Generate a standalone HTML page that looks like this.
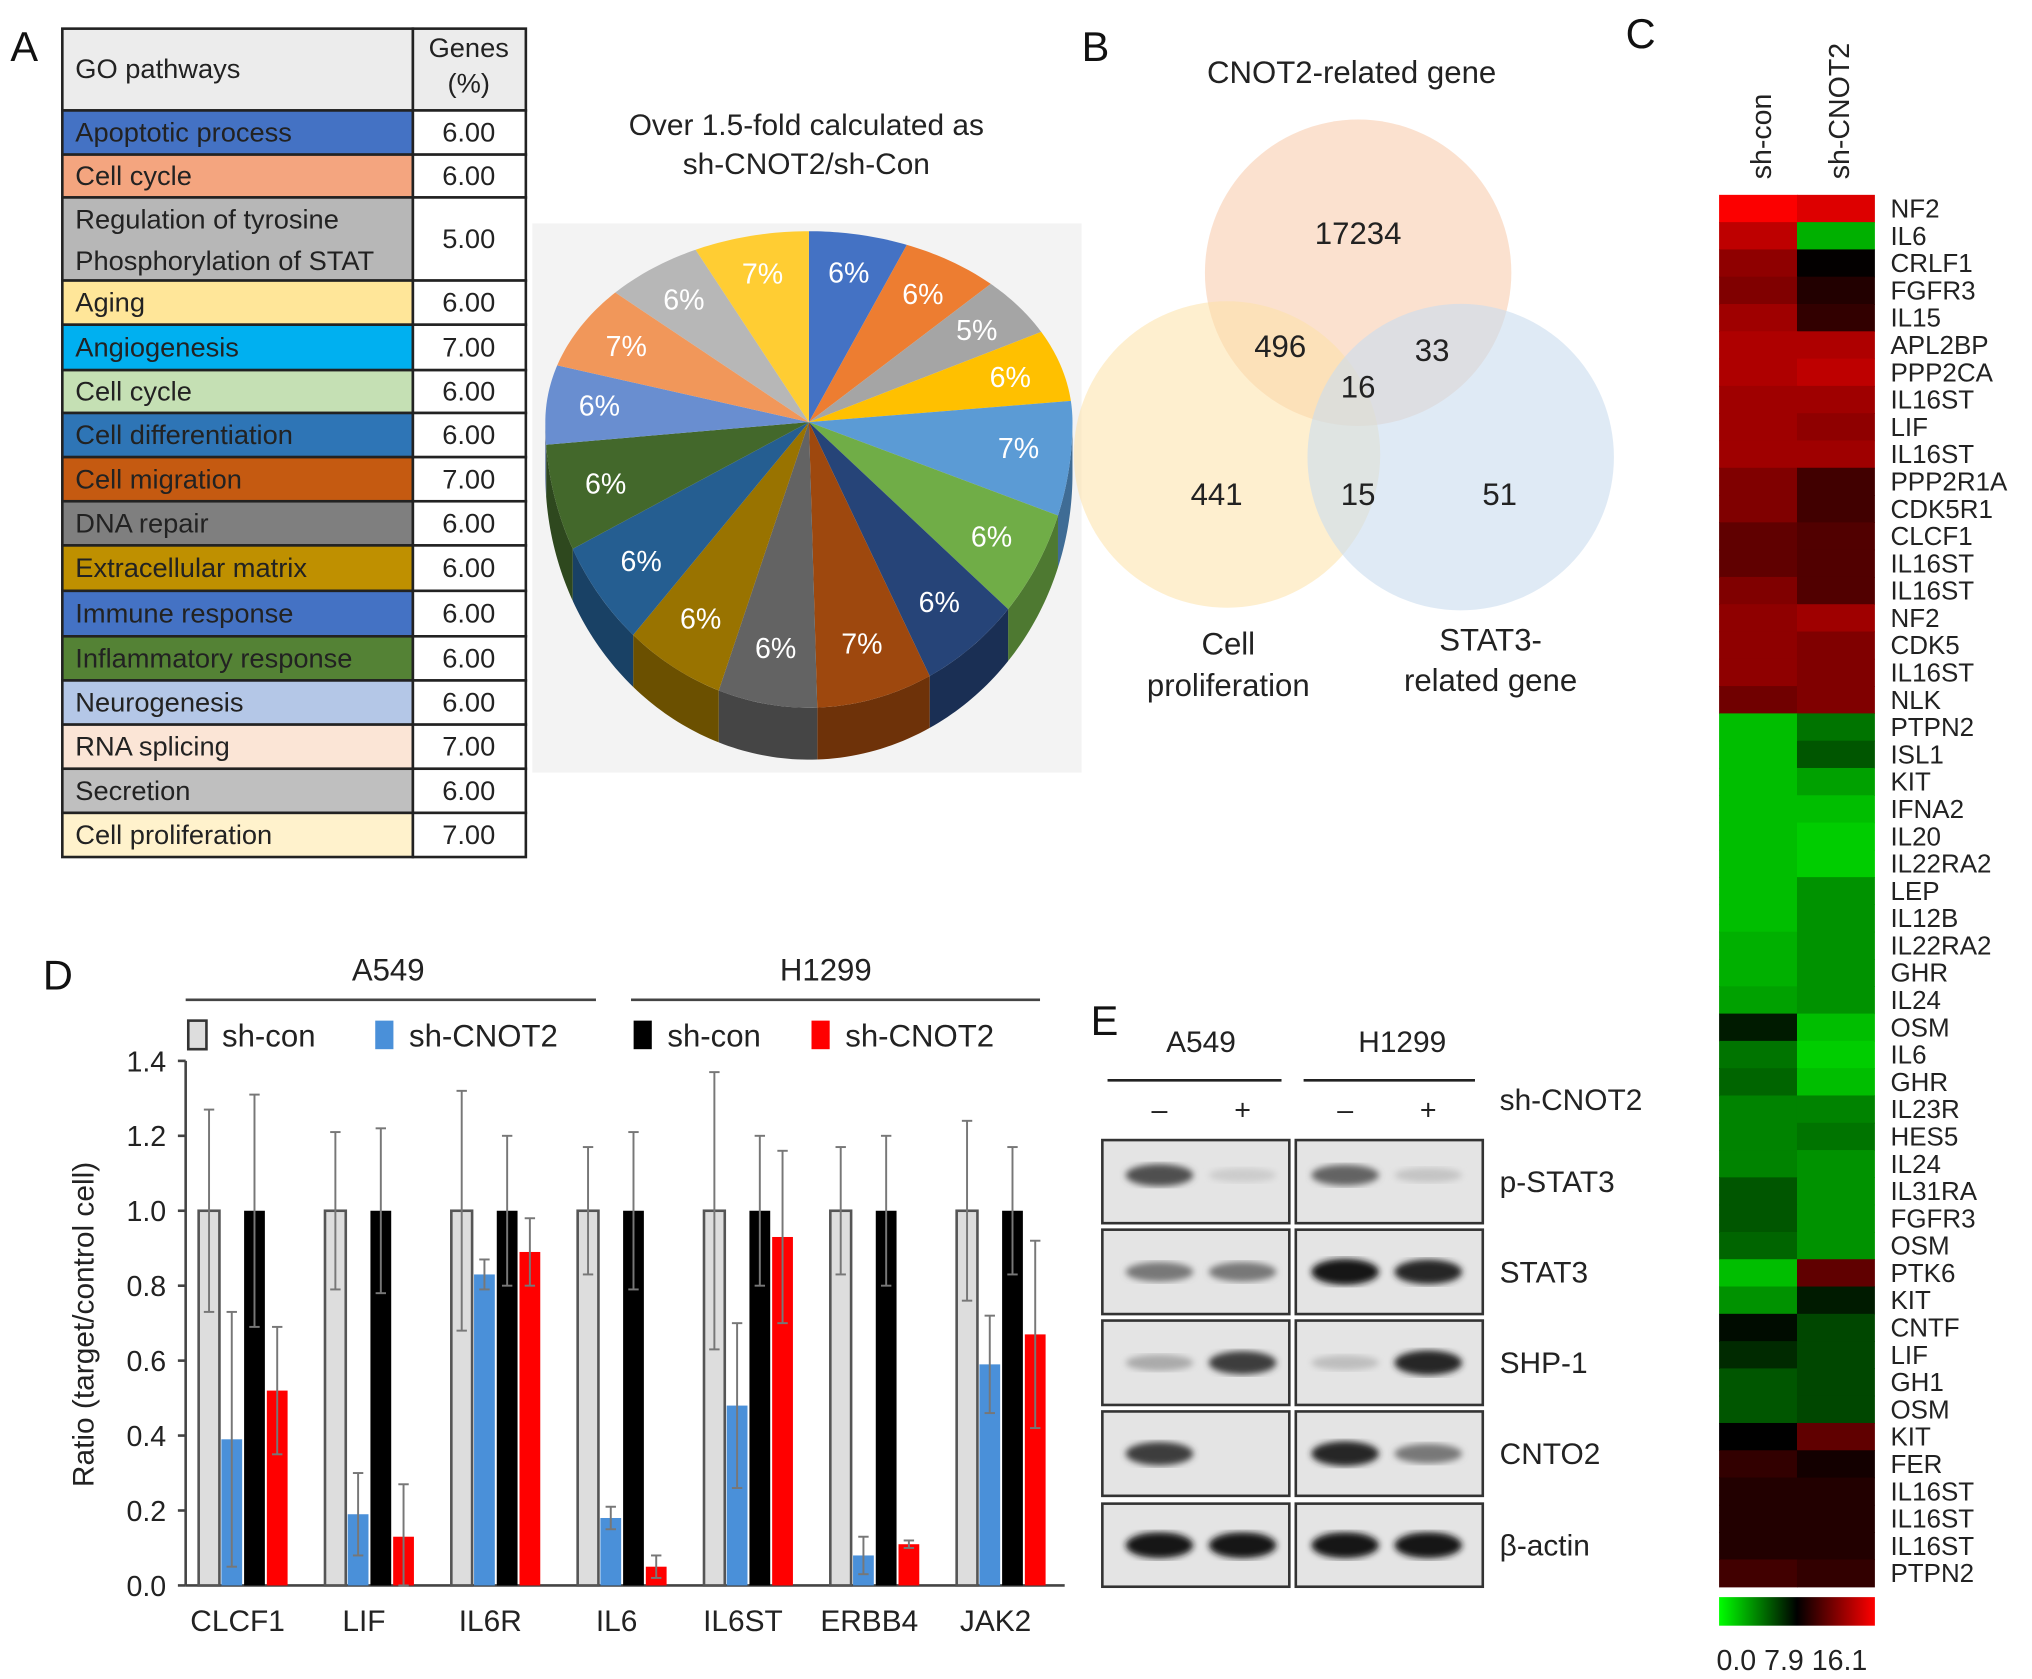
<!DOCTYPE html>
<html><head><meta charset="utf-8"><style>
html,body{margin:0;padding:0;background:#fff}
svg{display:block;font-family:"Liberation Sans",Arial,sans-serif}
</style></head><body>
<svg id="fig" width="2032" height="1679" viewBox="0 0 1565 1293" xmlns="http://www.w3.org/2000/svg">
<g id="pA"></g>
<g id="pB"></g>
<g id="pC"></g>
<g id="pD"></g>
<g id="pE"></g>
</svg>
<script>
// ---------- DATA ----------
const goNames=["Apoptotic process","Cell cycle","Regulation of tyrosine|Phosphorylation of STAT","Aging","Angiogenesis","Cell cycle","Cell differentiation","Cell migration","DNA repair","Extracellular matrix","Immune response","Inflammatory response","Neurogenesis","RNA splicing","Secretion","Cell proliferation"];
const goValues=[6,6,5,6,7,6,6,7,6,6,6,6,6,7,6,7];
const goColors=["#4472c4","#f4a57f","#b7b7b7","#ffe699","#00b0f0","#c5e0b4","#2e75b6","#c55a11","#7f7f7f","#bf9000","#4472c4","#548235","#b4c7e7","#fbe5d6","#bfbfbf","#fff2cc"];
const pieValues=[6,6,5,6,7,6,6,7,6,6,6,6,6,7,6,7];
const pieColors=["#4472c4","#ed7d31","#a5a5a5","#ffc000","#5b9bd5","#70ad47","#264478","#9e480e","#636363","#997300","#255e91","#43682b","#698ed0","#f1975a","#b7b7b7","#ffcd33"];
const vennCounts=["17234","496","33","16","441","15","51"];
const heatGenes=["NF2","IL6","CRLF1","FGFR3","IL15","APL2BP","PPP2CA","IL16ST","LIF","IL16ST","PPP2R1A","CDK5R1","CLCF1","IL16ST","IL16ST","NF2","CDK5","IL16ST","NLK","PTPN2","ISL1","KIT","IFNA2","IL20","IL22RA2","LEP","IL12B","IL22RA2","GHR","IL24","OSM","IL6","GHR","IL23R","HES5","IL24","IL31RA","FGFR3","OSM","PTK6","KIT","CNTF","LIF","GH1","OSM","KIT","FER","IL16ST","IL16ST","IL16ST","PTPN2"];
const heatCon=[16,14,12.5,12,13,13.5,13.5,13,13,13,12,12,11,11,12,12.5,12.5,12.5,11.5,1.5,1.5,1.5,1.5,1.5,1.5,1.5,1.5,2,2,2.5,7,4,4.5,3.5,3.5,3.5,5,5,4.5,1.5,3,7.5,6.5,5,5,7.9,9.5,9,9,9,10];
const heatKd=[15,2,8,9,9.5,13.5,14,13,12.5,13,10,10,10.5,10.5,10.5,13,12,12,12,4,5,2.5,1.5,1,1,3,3,3,3,3,1.5,1,1.5,3.5,4,3,3,3,3,11,7,5.5,5.5,5.5,5.5,11,8.5,9,9,9,9.5];
const barGenes=["CLCF1","LIF","IL6R","IL6","IL6ST","ERBB4","JAK2"];
const a549Con=[1,1,1,1,1,1,1];
const a549ConErr=[0.27,0.21,0.32,0.17,0.37,0.17,0.24];
const a549Kd=[0.39,0.19,0.83,0.18,0.48,0.08,0.59];
const a549KdErr=[0.34,0.11,0.04,0.03,0.22,0.05,0.13];
const h1299Con=[1,1,1,1,1,1,1];
const h1299ConErr=[0.31,0.22,0.20,0.21,0.20,0.20,0.17];
const h1299Kd=[0.52,0.13,0.89,0.05,0.93,0.11,0.67];
const h1299KdErr=[0.17,0.14,0.09,0.03,0.23,0.01,0.25];
const yTicks=[0,0.2,0.4,0.6,0.8,1.0,1.2,1.4];
const blotLabels=["p-STAT3","STAT3","SHP-1","CNTO2","β-actin"];
const blotIntensity=[[0.7,0.08,0.6,0.12],[0.5,0.5,1,0.9],[0.25,0.8,0.15,0.9],[0.8,0,0.9,0.5],[1,1,1,1]];

// ---------- helpers ----------
const NS="http://www.w3.org/2000/svg";
function mk(parent,tag,attrs,text){const e=document.createElementNS(NS,tag);for(const k in attrs)e.setAttribute(k,attrs[k]);if(text!==undefined)e.textContent=text;parent.appendChild(e);return e;}
const svg=document.getElementById('fig');
function letter(t,x,y){const e=mk(svg,'text',{x:x,y:y,'font-size':32,fill:'#111'},t);

}
letter('A',8,47);letter('B',833,47);letter('C',1252,37);letter('D',33,762);letter('E',840,797);

// ---------- Panel A table ----------
const pA=document.getElementById('pA');
const rowB=[85,119,152,216,250,285,318,352,386,420,455,490,524,558,592,626,660];
(function(){
 const hdr=mk(pA,'rect',{x:48,y:22,width:270,height:63,fill:'#ececec',stroke:'#222','stroke-width':2});
 
 mk(pA,'rect',{x:318,y:22,width:87,height:63,fill:'#ececec',stroke:'#222','stroke-width':2});
 mk(pA,'text',{x:58,y:60,'font-size':21,fill:'#222'},'GO pathways');
 mk(pA,'text',{x:361,y:44,'font-size':21,fill:'#222','text-anchor':'middle'},'Genes');
 mk(pA,'text',{x:361,y:71,'font-size':21,fill:'#222','text-anchor':'middle'},'(%)');
 for(let i=0;i<goNames.length;i++){
  const y0=rowB[i],y1=rowB[i+1];
  const r=mk(pA,'rect',{x:48,y:y0,width:270,height:y1-y0,fill:goColors[i],stroke:'#222','stroke-width':2});
  
  mk(pA,'rect',{x:318,y:y0,width:87,height:y1-y0,fill:'#fff',stroke:'#222','stroke-width':2});
  const parts=goNames[i].split('|');
  if(parts.length===1) mk(pA,'text',{x:58,y:(y0+y1)/2+7,'font-size':21,fill:'#222'},parts[0]);
  else{mk(pA,'text',{x:58,y:y0+24,'font-size':21,fill:'#222'},parts[0]);mk(pA,'text',{x:58,y:y0+56,'font-size':21,fill:'#222'},parts[1]);}
  mk(pA,'text',{x:361,y:(y0+y1)/2+7,'font-size':21,fill:'#222','text-anchor':'middle'},goValues[i].toFixed(2));
 }
 // pie
 mk(pA,'rect',{x:410,y:172,width:423,height:423,fill:'#f3f3f3'});
 const t1=mk(pA,'text',{x:621,y:104,'font-size':23,fill:'#222','text-anchor':'middle'},'Over 1.5-fold calculated as');
 
 mk(pA,'text',{x:621,y:134,'font-size':23,fill:'#222','text-anchor':'middle'},'sh-CNOT2/sh-Con');
 const cx=623,cy=325,rx=203,ryT=147,ryB=220,dep=40;
 const tot=pieValues.reduce((a,b)=>a+b,0);
 const pt=(a,r,dy)=>{const c=Math.cos(a);return [cx+rx*r*Math.sin(a),cy-(c>0?ryT:ryB)*r*c+(dy||0)];};
 function shade(c,f){const n=parseInt(c.slice(1),16);const r=(n>>16)*f|0,g=((n>>8)&255)*f|0,b=(n&255)*f|0;return `rgb(${r},${g},${b})`;}
 let a=0;const angs=[];
 for(const v of pieValues){const b=a+v/tot*2*Math.PI;angs.push([a,b]);a=b;}
 angs.forEach(([a0,b0],i)=>{
  const s=Math.max(a0,Math.PI/2),e=Math.min(b0,3*Math.PI/2);if(s>=e)return;
  let d='';const N=20;for(let k=0;k<=N;k++){const p=pt(s+(e-s)*k/N,1);d+=(k?'L':'M')+p[0]+','+p[1];}
  for(let k=N;k>=0;k--){const p=pt(s+(e-s)*k/N,1,dep);d+='L'+p[0]+','+p[1];}
  const sd=mk(pA,'path',{d:d+'Z',fill:shade(pieColors[i],0.7)});
  
 });
 angs.forEach(([a0,b0],i)=>{
  let d=`M${cx},${cy}`;const N=24;
  for(let k=0;k<=N;k++){const p=pt(a0+(b0-a0)*k/N,1);d+='L'+p[0]+','+p[1];}
  const sl=mk(pA,'path',{d:d+'Z',fill:pieColors[i]});
  
  const m=pt((a0+b0)/2,0.8);
  mk(pA,'text',{x:m[0],y:m[1]+8,'font-size':22,fill:'#fff','text-anchor':'middle'},pieValues[i]+'%');
 });
})();

// ---------- Panel B Venn ----------
(function(){
 const g=document.getElementById('pB');
 const t=mk(g,'text',{x:1041,y:64,'font-size':24,fill:'#222','text-anchor':'middle'},'CNOT2-related gene');
 
 const c1=mk(g,'circle',{cx:1046,cy:210,r:118,fill:'#f7c9a8','fill-opacity':0.55});
 
 const c2=mk(g,'circle',{cx:945,cy:350,r:118,fill:'#fde2a8','fill-opacity':0.55});
 
 const c3=mk(g,'circle',{cx:1125,cy:352,r:118,fill:'#c9dcee','fill-opacity':0.6});
 
 const pos=[[1046,188],[986,275],[1103,278],[1046,306],[937,389],[1046,389],[1155,389]];
 vennCounts.forEach((v,i)=>mk(g,'text',{x:pos[i][0],y:pos[i][1],'font-size':24,fill:'#222','text-anchor':'middle'},v));
 mk(g,'text',{x:946,y:504,'font-size':24,fill:'#222','text-anchor':'middle'},'Cell');
 mk(g,'text',{x:946,y:536,'font-size':24,fill:'#222','text-anchor':'middle'},'proliferation');
 mk(g,'text',{x:1148,y:501,'font-size':24,fill:'#222','text-anchor':'middle'},'STAT3-');
 mk(g,'text',{x:1148,y:532,'font-size':24,fill:'#222','text-anchor':'middle'},'related gene');
})();

// ---------- Panel C heatmap ----------
(function(){
 const g=document.getElementById('pC');
 const x0=1324,w=60,y0=150,y1=1222,rh=(y1-y0)/heatGenes.length;
 function col(v){if(v<7.9){const gg=Math.round((7.9-v)/7.9*235);return `rgb(0,${gg},0)`;}const r=Math.round((v-7.9)/8.2*255);return `rgb(${r},0,0)`;}
 const yS=i=>y0+i*rh;
 heatGenes.forEach((gn,i)=>{
  const a=mk(g,'rect',{x:x0,y:yS(i),width:w+0.5,height:rh+0.5,fill:col(heatCon[i])});
  
  const b=mk(g,'rect',{x:x0+w,y:yS(i),width:w,height:rh+0.5,fill:col(heatKd[i])});
  
  mk(g,'text',{x:1456,y:yS(i)+rh/2+7,'font-size':20,fill:'#222'},gn);
 });
 const h1=mk(g,'text',{transform:'translate(1364,138) rotate(-90)','font-size':22,fill:'#222'},'sh-con');
 
 const h2=mk(g,'text',{transform:'translate(1424,138) rotate(-90)','font-size':22,fill:'#222'},'sh-CNOT2');
 
 const defs=mk(g,'defs',{});const lg=mk(defs,'linearGradient',{id:'cb'});
 mk(lg,'stop',{offset:'0','stop-color':'#00ff00'});mk(lg,'stop',{offset:'0.5','stop-color':'#000'});mk(lg,'stop',{offset:'1','stop-color':'#ff0000'});
 const cb=mk(g,'rect',{x:1324,y:1230,width:120,height:22,fill:'url(#cb)'});
 
 mk(g,'text',{x:1322,y:1286,'font-size':22,fill:'#222'},'0.0 7.9 16.1');
})();

// ---------- Panel D bars ----------
(function(){
 const g=document.getElementById('pD');
 const yZero=1221,yTop=817,vmax=1.4;
 const yS=v=>yZero-(v/vmax)*(yZero-yTop);
 const gx=i=>153+i*97.3;
 const bw=16,step=17.5;
 mk(g,'text',{x:299,y:755,'font-size':24,fill:'#222','text-anchor':'middle'},'A549');
 mk(g,'text',{x:636,y:755,'font-size':24,fill:'#222','text-anchor':'middle'},'H1299');
 mk(g,'line',{x1:143,y1:770,x2:459,y2:770,stroke:'#444','stroke-width':2});
 mk(g,'line',{x1:486,y1:770,x2:801,y2:770,stroke:'#444','stroke-width':2});
 const leg=[["#ddd","sh-con",145],["#4a90d9","sh-CNOT2",289],["#000","sh-con",488],["#ff0000","sh-CNOT2",625]];
 leg.forEach((l,i)=>{const r=mk(g,'rect',{x:l[2],y:786,width:14,height:22,fill:l[0],stroke:i==0?'#333':'none','stroke-width':2});
  
  mk(g,'text',{x:l[2]+26,y:806,'font-size':24,fill:'#222'},l[1]);});
 const ax=mk(g,'line',{x1:143,y1:yZero,x2:820,y2:yZero,stroke:'#444','stroke-width':2});
 
 const ay=mk(g,'line',{x1:143,y1:yTop,x2:143,y2:yZero,stroke:'#444','stroke-width':2});
 
 yTicks.forEach(v=>{mk(g,'line',{x1:137,y1:yS(v),x2:143,y2:yS(v),stroke:'#444','stroke-width':2});
  mk(g,'text',{x:128,y:yS(v)+8,'font-size':22,fill:'#222','text-anchor':'end'},v.toFixed(1));});
 const yt=mk(g,'text',{transform:'translate(72,1020) rotate(-90)','font-size':23,fill:'#222','text-anchor':'middle'},'Ratio (target/control cell)');
 
 const series=[[a549Con,a549ConErr,'#ddd','#555'],[a549Kd,a549KdErr,'#4a90d9',null],[h1299Con,h1299ConErr,'#000',null],[h1299Kd,h1299KdErr,'#ff0000',null]];
 barGenes.forEach((gn,i)=>{
  series.forEach((s,j)=>{
   const x=gx(i)+j*step,v=s[0][i],e=s[1][i];
   const r=mk(g,'rect',{x:x,y:yS(v),width:bw,height:yZero-yS(v),fill:s[2],stroke:s[3]||'none','stroke-width':s[3]?2:0});
   
   const cx=x+bw/2;
   mk(g,'line',{x1:cx,y1:yS(v+e),x2:cx,y2:yS(Math.max(0,v-e)),stroke:'#777','stroke-width':1.5});
   mk(g,'line',{x1:cx-4,y1:yS(v+e),x2:cx+4,y2:yS(v+e),stroke:'#777','stroke-width':1.5});
   mk(g,'line',{x1:cx-4,y1:yS(Math.max(0,v-e)),x2:cx+4,y2:yS(Math.max(0,v-e)),stroke:'#777','stroke-width':1.5});
  });
  mk(g,'text',{x:gx(i)+30,y:1256,'font-size':23,fill:'#222','text-anchor':'middle'},gn);
 });
})();

// ---------- Panel E blot ----------
(function(){
 const g=document.getElementById('pE');
 mk(g,'text',{x:925,y:810,'font-size':23,fill:'#222','text-anchor':'middle'},'A549');
 mk(g,'text',{x:1080,y:810,'font-size':23,fill:'#222','text-anchor':'middle'},'H1299');
 mk(g,'line',{x1:853,y1:832,x2:987,y2:832,stroke:'#222','stroke-width':2});
 mk(g,'line',{x1:1004,y1:832,x2:1136,y2:832,stroke:'#222','stroke-width':2});
 const lanes=[893,957,1036,1100];const signs=['–','+','–','+'];
 lanes.forEach((x,i)=>mk(g,'text',{x:x,y:862,'font-size':22,fill:'#222','text-anchor':'middle'},signs[i]));
 mk(g,'text',{x:1155,y:855,'font-size':23,fill:'#222'},'sh-CNOT2');
 const rows=[[878,942],[947,1012],[1017,1082],[1087,1152],[1158,1222]];
 const defs=mk(g,'defs',{});const f=mk(defs,'filter',{id:'blur'});mk(f,'feGaussianBlur',{stdDeviation:2.5});
 rows.forEach((r,ri)=>{
  [[849,993],[998,1142]].forEach((p,pi)=>{
   const b=mk(g,'rect',{x:p[0],y:r[0],width:p[1]-p[0],height:r[1]-r[0],fill:'#e4e4e4',stroke:'#333','stroke-width':2});
   
  });
  const cy=(r[0]+r[1])/2+(ri==0?-5:0);
  lanes.forEach((x,li)=>{const v=blotIntensity[ri][li];if(v<=0.02)return;
   const c=Math.round(220-v*200);
   mk(g,'ellipse',{cx:x,cy:cy,rx:26,ry:5+v*5,fill:`rgb(${c},${c},${c})`,filter:'url(#blur)'});});
  mk(g,'text',{x:1155,y:(r[0]+r[1])/2+8,'font-size':23,fill:'#222'},blotLabels[ri]);
 });
})();
</script>
</body></html>
